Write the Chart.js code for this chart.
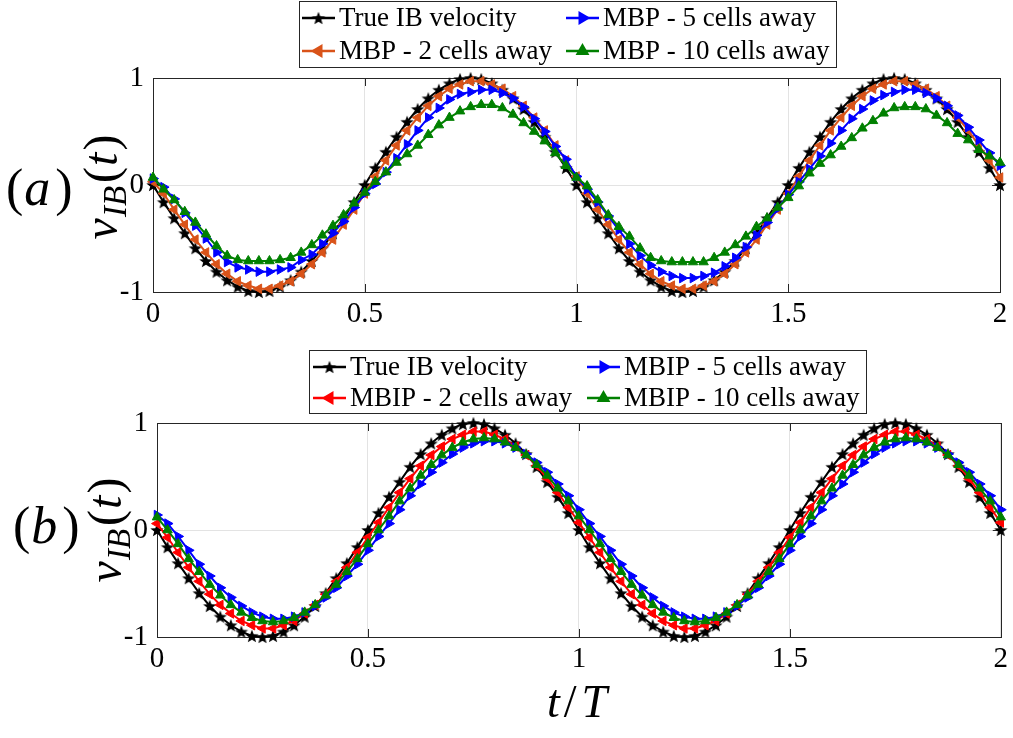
<!DOCTYPE html>
<html>
<head>
<meta charset="utf-8">
<script src="https://cdn.jsdelivr.net/npm/chart.js@4.4.0/dist/chart.umd.min.js"></script>
<style>
  body { margin: 0; background: #fff; width: 1013px; height: 738px; overflow: hidden; position: relative; }
  .panel { position: absolute; left: 0; width: 1013px; }
  #wrapA { top: 0; height: 340px; }
  #wrapB { top: 345px; height: 393px; }
</style>
</head>
<body>
<div class="panel" id="wrapA"><canvas id="chartA" width="1013" height="340"></canvas></div>
<div class="panel" id="wrapB"><canvas id="chartB" width="1013" height="393"></canvas></div>
<script>
// time samples t/T
const tValues = [0,0.025,0.05,0.075,0.1,0.125,0.15,0.175,0.2,0.225,0.25,0.275,0.3,0.325,0.35,0.375,0.4,0.425,0.45,0.475,
  0.5,0.525,0.55,0.575,0.6,0.625,0.65,0.675,0.7,0.725,0.75,0.775,0.8,0.825,0.85,0.875,0.9,0.925,0.95,0.975,
  1,1.025,1.05,1.075,1.1,1.125,1.15,1.175,1.2,1.225,1.25,1.275,1.3,1.325,1.35,1.375,1.4,1.425,1.45,1.475,
  1.5,1.525,1.55,1.575,1.6,1.625,1.65,1.675,1.7,1.725,1.75,1.775,1.8,1.825,1.85,1.875,1.9,1.925,1.95,1.975,2];

const trueVel = [0,-0.16,-0.31,-0.45,-0.59,-0.71,-0.81,-0.89,-0.95,-0.99,-1,-0.99,-0.95,-0.89,-0.81,-0.71,-0.59,-0.45,-0.31,-0.16,
  0,0.16,0.31,0.45,0.59,0.71,0.81,0.89,0.95,0.99,1,0.99,0.95,0.89,0.81,0.71,0.59,0.45,0.31,0.16,
  0,-0.16,-0.31,-0.45,-0.59,-0.71,-0.81,-0.89,-0.95,-0.99,-1,-0.99,-0.95,-0.89,-0.81,-0.71,-0.59,-0.45,-0.31,-0.16,
  0,0.16,0.31,0.45,0.59,0.71,0.81,0.89,0.95,0.99,1,0.99,0.95,0.89,0.81,0.71,0.59,0.45,0.31,0.16,0];

// panel (a) - MBP
const mbp2 = [0.03,-0.08,-0.23,-0.37,-0.51,-0.63,-0.74,-0.83,-0.90,-0.94,-0.97,-0.97,-0.94,-0.90,-0.83,-0.74,-0.63,-0.51,-0.37,-0.23,
  -0.08,0.08,0.23,0.37,0.51,0.63,0.74,0.83,0.90,0.94,0.97,0.97,0.94,0.90,0.83,0.74,0.63,0.51,0.37,0.23,
  0.08,-0.08,-0.23,-0.37,-0.51,-0.63,-0.74,-0.83,-0.90,-0.94,-0.97,-0.97,-0.94,-0.90,-0.83,-0.74,-0.63,-0.51,-0.37,-0.23,
  -0.08,0.08,0.23,0.37,0.51,0.63,0.74,0.83,0.90,0.94,0.97,0.97,0.94,0.90,0.83,0.74,0.63,0.51,0.37,0.23,0.07];
const mbp5 = [0.06,-0.02,-0.13,-0.26,-0.38,-0.50,-0.63,-0.72,-0.77,-0.79,-0.81,-0.81,-0.79,-0.77,-0.70,-0.65,-0.55,-0.45,-0.34,-0.21,
  -0.08,0.01,0.12,0.25,0.38,0.51,0.63,0.72,0.80,0.85,0.87,0.89,0.89,0.86,0.81,0.73,0.62,0.50,0.36,0.24,
  0.08,-0.04,-0.16,-0.29,-0.42,-0.55,-0.66,-0.75,-0.81,-0.85,-0.87,-0.87,-0.85,-0.82,-0.76,-0.68,-0.58,-0.47,-0.35,-0.22,
  -0.09,0.03,0.15,0.27,0.39,0.51,0.62,0.71,0.79,0.84,0.87,0.89,0.89,0.86,0.81,0.74,0.65,0.54,0.42,0.30,0.18];
const mbp10 = [0.07,-0.04,-0.14,-0.25,-0.35,-0.46,-0.57,-0.66,-0.70,-0.71,-0.71,-0.71,-0.70,-0.68,-0.63,-0.56,-0.47,-0.38,-0.28,-0.17,
  -0.07,0.03,0.12,0.21,0.29,0.37,0.47,0.56,0.63,0.69,0.73,0.75,0.75,0.72,0.66,0.58,0.50,0.41,0.30,0.18,
  0.07,-0.01,-0.14,-0.28,-0.39,-0.48,-0.59,-0.68,-0.71,-0.72,-0.72,-0.72,-0.72,-0.68,-0.63,-0.56,-0.48,-0.39,-0.31,-0.21,
  -0.12,-0.01,0.11,0.20,0.28,0.36,0.44,0.53,0.60,0.67,0.72,0.73,0.73,0.71,0.65,0.58,0.48,0.42,0.33,0.27,0.21];

// panel (b) - MBIP
const mbip2 = [0.06,-0.07,-0.21,-0.35,-0.48,-0.60,-0.70,-0.78,-0.85,-0.89,-0.92,-0.92,-0.89,-0.85,-0.78,-0.70,-0.60,-0.48,-0.35,-0.21,
  -0.07,0.07,0.21,0.35,0.48,0.60,0.70,0.78,0.85,0.89,0.92,0.92,0.89,0.85,0.78,0.70,0.60,0.48,0.35,0.21,
  0.07,-0.07,-0.21,-0.35,-0.48,-0.60,-0.70,-0.78,-0.85,-0.89,-0.92,-0.92,-0.89,-0.85,-0.78,-0.70,-0.60,-0.48,-0.35,-0.21,
  -0.07,0.07,0.21,0.35,0.48,0.60,0.70,0.78,0.85,0.89,0.92,0.92,0.89,0.85,0.78,0.70,0.60,0.48,0.35,0.21,0.07];
const mbip5 = [0.14,0.06,-0.06,-0.19,-0.32,-0.43,-0.54,-0.63,-0.71,-0.77,-0.81,-0.83,-0.83,-0.81,-0.77,-0.71,-0.63,-0.54,-0.43,-0.32,
  -0.19,-0.06,0.06,0.19,0.32,0.43,0.54,0.63,0.71,0.77,0.81,0.83,0.83,0.81,0.77,0.71,0.63,0.54,0.43,0.32,
  0.19,0.06,-0.06,-0.19,-0.32,-0.43,-0.54,-0.63,-0.71,-0.77,-0.81,-0.83,-0.83,-0.81,-0.77,-0.71,-0.63,-0.54,-0.43,-0.32,
  -0.19,-0.06,0.06,0.19,0.32,0.43,0.54,0.63,0.71,0.77,0.81,0.83,0.83,0.81,0.77,0.71,0.63,0.54,0.43,0.32,0.19];
const mbip10 = [0.12,0,-0.13,-0.27,-0.39,-0.51,-0.61,-0.70,-0.77,-0.82,-0.85,-0.86,-0.85,-0.82,-0.77,-0.70,-0.61,-0.51,-0.39,-0.27,
  -0.13,0,0.13,0.27,0.39,0.51,0.61,0.70,0.77,0.82,0.85,0.86,0.85,0.82,0.77,0.70,0.61,0.51,0.39,0.27,
  0.13,0,-0.13,-0.27,-0.39,-0.51,-0.61,-0.70,-0.77,-0.82,-0.85,-0.86,-0.85,-0.82,-0.77,-0.70,-0.61,-0.51,-0.39,-0.27,
  -0.13,0,0.13,0.27,0.39,0.51,0.61,0.70,0.77,0.82,0.85,0.86,0.85,0.82,0.77,0.70,0.61,0.51,0.39,0.27,0.12];

const xTicks = [0, 0.5, 1, 1.5, 2];
const yTicks = [-1, 0, 1];
const labelsA = ['True IB velocity', 'MBP - 2 cells away', 'MBP - 5 cells away', 'MBP - 10 cells away'];
const labelsB = ['True IB velocity', 'MBIP - 2 cells away', 'MBIP - 5 cells away', 'MBIP - 10 cells away'];

const SERIF = "'Liberation Serif', serif";

// filled pentagram marker like matlab's 'p'
function makeStar(r) {
  const c = document.createElement('canvas');
  const s = Math.ceil(2 * r + 2);
  c.width = s; c.height = s;
  const g = c.getContext('2d');
  g.translate(s / 2, s / 2 + r * 0.1);
  g.beginPath();
  for (let i = 0; i < 10; i++) {
    const a = -Math.PI / 2 + i * Math.PI / 5;
    const rr = i % 2 ? r * 0.42 : r;
    g.lineTo(rr * Math.cos(a), rr * Math.sin(a));
  }
  g.closePath();
  g.fillStyle = '#000';
  g.fill();
  return c;
}
const starImg = makeStar(7);

// draw a run of [font, text, dy, gapAfter] pieces starting at x
function drawRun(ctx, parts, x, y) {
  parts.forEach(p => {
    ctx.font = p[0] + SERIF;
    ctx.fillText(p[1], x, y + p[2]);
    x += ctx.measureText(p[1]).width + p[3];
  });
}
function runWidth(ctx, parts) {
  let w = 0;
  parts.forEach(p => { ctx.font = p[0] + SERIF; w += ctx.measureText(p[1]).width + p[3]; });
  return w;
}

// draws box, inward ticks, legend and the axis labels
const decorPlugin = {
  id: 'decor',
  beforeDatasetsDraw(chart) {
    const {ctx, chartArea: a, scales} = chart;
    ctx.save();
    ctx.strokeStyle = '#262626';
    ctx.lineWidth = 1;
    ctx.beginPath();
    xTicks.forEach(v => {
      const px = Math.round(scales.x.getPixelForValue(v)) + 0.5;
      ctx.moveTo(px, a.bottom); ctx.lineTo(px, a.bottom - 8);
      ctx.moveTo(px, a.top); ctx.lineTo(px, a.top + 8);
    });
    yTicks.forEach(v => {
      const py = Math.round(scales.y.getPixelForValue(v)) + 0.5;
      ctx.moveTo(a.left, py); ctx.lineTo(a.left + 8, py);
      ctx.moveTo(a.right, py); ctx.lineTo(a.right - 8, py);
    });
    ctx.stroke();
    ctx.strokeRect(Math.round(a.left) + 0.5, Math.round(a.top) + 0.5,
      Math.round(a.right - a.left), Math.round(a.bottom - a.top));
    ctx.restore();
  },
  afterDraw(chart, args, o) {
    const ctx = chart.ctx;
    ctx.save();
    // legend
    const L = o.legend;
    ctx.fillStyle = '#fff';
    ctx.fillRect(L.x, L.y, L.w, L.h);
    ctx.strokeStyle = '#262626';
    ctx.lineWidth = 1;
    ctx.strokeRect(L.x + 0.5, L.y + 0.5, L.w, L.h);
    chart.data.datasets.forEach((ds, i) => {
      const col = L.order[i][0], row = L.order[i][1];
      const sx = L.cols[col], sy = L.rows[row];
      ctx.strokeStyle = ds.borderColor;
      ctx.lineWidth = 2.5;
      ctx.beginPath(); ctx.moveTo(sx, sy); ctx.lineTo(sx + 33, sy); ctx.stroke();
      ctx.fillStyle = ds.borderColor;
      Chart.helpers.drawPoint(ctx, {pointStyle: ds.pointStyle, radius: ds.pointRadius,
        rotation: ds.pointRotation, borderWidth: 1}, sx + 16.5, sy);
      ctx.fill();
      ctx.fillStyle = '#000';
      ctx.font = '27px ' + SERIF;
      ctx.textBaseline = 'middle';
      ctx.textAlign = 'left';
      ctx.fillText(ds.label, sx + 37, sy + 1);
    });
    // panel tag "(a)"
    ctx.fillStyle = '#000';
    ctx.textBaseline = 'alphabetic';
    const tag = o.tag;
    drawRun(ctx, [['52px ', '(', 0, 1], ['italic 52px ', tag.letter, 0, 5], ['52px ', ')', 0, 0]], tag.x, tag.y);
    // y label v_IB(t), rotated
    ctx.translate(o.ylab.x, o.ylab.y);
    ctx.rotate(-Math.PI / 2);
    const parts = [
      ['italic 48px ', 'v', 0, 1], ['italic 33px ', 'IB', 9, 3], ['48px ', '(', 0, 1],
      ['italic 48px ', 't', 0, 2], ['48px ', ')', 0, 0]
    ];
    drawRun(ctx, parts, -runWidth(ctx, parts) / 2, 0);
    ctx.restore();
    if (o.xlab) {
      ctx.save();
      ctx.fillStyle = '#000';
      ctx.textBaseline = 'alphabetic';
      const xp = [['italic 46px ', 't', 0, 4], ['46px ', '/', 0, 5], ['italic 46px ', 'T', 0, 0]];
      drawRun(ctx, xp, o.xlab.x - runWidth(ctx, xp) / 2, o.xlab.y);
      ctx.restore();
    }
  }
};

function buildPanel(id, height, left, right, series, labels, decor) {
  const colors = ['#000000', series.c2, '#0000ff', '#008000'];
  const styles = [starImg, 'triangle', 'triangle', 'triangle'];
  const rotations = [0, -90, 90, 0];
  const radii = [7, 5.5, 5.5, 5.5];
  const datasets = series.values.map((vals, i) => ({
    label: labels[i],
    data: tValues.map((t, j) => ({x: t, y: vals[j]})),
    borderColor: colors[i],
    backgroundColor: colors[i],
    pointBackgroundColor: colors[i],
    pointBorderColor: colors[i],
    pointStyle: styles[i],
    pointRotation: rotations[i],
    pointRadius: radii[i],
    pointBorderWidth: 1,
    borderWidth: 2,
    tension: 0,
    clip: 10,
    order: 4 - i
  }));
  return new Chart(document.getElementById(id), {
    type: 'line',
    data: {datasets},
    options: {
      responsive: false,
      animation: false,
      events: [],
      layout: {padding: {left: 0, right: 1013 - right, top: 78, bottom: 0}},
      plugins: {legend: {display: false}, tooltip: {enabled: false}, decor},
      scales: {
        x: {
          type: 'linear', min: 0, max: 2,
          afterBuildTicks: s => { s.ticks = xTicks.map(v => ({value: v})); },
          afterFit: s => { s.height = height - 292; },
          ticks: {color: '#000', font: {family: SERIF, size: 29}, padding: 5, maxRotation: 0, autoSkip: false,
            callback: v => String(v)},
          grid: {color: '#e3e3e3', drawTicks: false},
          border: {display: false}
        },
        y: {
          type: 'linear', min: -1, max: 1,
          afterBuildTicks: s => { s.ticks = yTicks.map(v => ({value: v})); },
          afterFit: s => { s.width = left; },
          ticks: {color: '#000', font: {family: SERIF, size: 29}, padding: 9, callback: v => String(v)},
          grid: {color: '#e3e3e3', drawTicks: false},
          border: {display: false}
        }
      }
    },
    plugins: [decorPlugin]
  });
}

buildPanel('chartA', 340, 153, 1000,
  {c2: '#d95319', values: [trueVel, mbp2, mbp5, mbp10]}, labelsA,
  {
    legend: {x: 299, y: 1, w: 537, h: 66, cols: [302, 566], rows: [18, 51], order: [[0, 0], [0, 1], [1, 0], [1, 1]]},
    tag: {x: 6, y: 205, letter: 'a'},
    ylab: {x: 117, y: 187}
  });

buildPanel('chartB', 393, 157, 1002,
  {c2: '#ff0000', values: [trueVel, mbip2, mbip5, mbip10]}, labelsB,
  {
    legend: {x: 309, y: 5, w: 557, h: 63, cols: [313, 587], rows: [22, 53], order: [[0, 0], [0, 1], [1, 0], [1, 1]]},
    tag: {x: 13, y: 198, letter: 'b'},
    ylab: {x: 121, y: 185},
    xlab: {x: 577, y: 372}
  });
</script>
</body>
</html>
